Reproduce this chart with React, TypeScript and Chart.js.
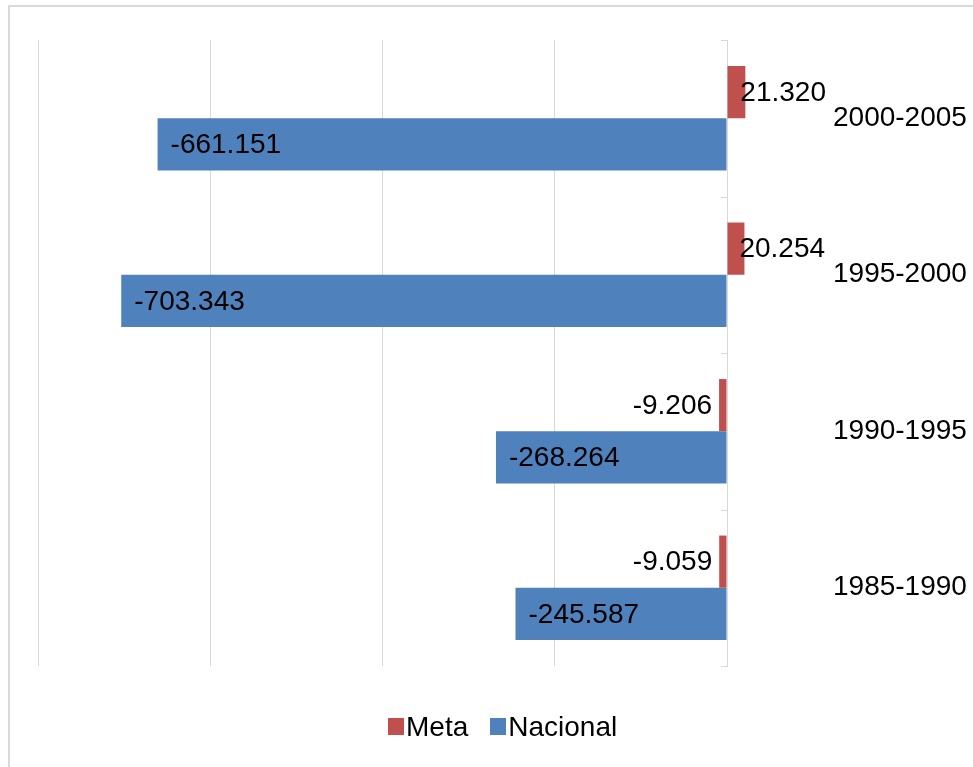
import React, { useEffect, useRef } from 'react';
import { Chart, registerables } from 'chart.js';

Chart.register(...registerables);

const categories = ['2000-2005', '1995-2000', '1990-1995', '1985-1990'];
const metaValues = [21320, 20254, -9206, -9059];
const nacionalValues = [-661151, -703343, -268264, -245587];
const xMin = -800000;
const xMax = 0;
const xStep = 200000;

const META_COLOR = '#C0504D';
const NACIONAL_COLOR = '#4F81BD';
const GRID_COLOR = '#d9d9d9';
const FONT = '"Liberation Sans", Arial, sans-serif';

const fmt = (v: number) => {
  const s = Math.abs(v).toString().replace(/\B(?=(\d{3})+(?!\d))/g, '.');
  return (v < 0 ? '-' : '') + s;
};

const labelPlugin = {
  id: 'barLabels',
  afterDatasetsDraw(chart: any) {
    const ctx = chart.ctx;
    ctx.save();
    ctx.font = `28px ${FONT}`;
    ctx.fillStyle = '#000';
    ctx.textBaseline = 'middle';
    chart.data.datasets.forEach((ds: any, di: number) => {
      const meta = chart.getDatasetMeta(di);
      meta.data.forEach((bar: any, i: number) => {
        const v = ds.data[i] as number;
        const { x, y } = bar.getProps(['x', 'y'], true);
        let tx: number;
        let align: CanvasTextAlign;
        if (di === 1) {
          align = 'left';
          tx = x + 13;
        } else if (v < 0) {
          align = 'right';
          tx = x - 7;
        } else {
          align = 'left';
          tx = x - 5;
        }
        ctx.textAlign = align;
        ctx.fillText(fmt(v), tx, y + 1);
      });
    });
    ctx.restore();
  },
};

const tickMarkPlugin = {
  id: 'catTickMarks',
  afterDraw(chart: any) {
    const s = chart.scales.y;
    const n = categories.length;
    const step = (s.bottom - s.top) / n;
    const ctx = chart.ctx;
    ctx.save();
    ctx.strokeStyle = GRID_COLOR;
    ctx.lineWidth = 1;
    ctx.beginPath();
    for (let i = 0; i <= n; i++) {
      const y = Math.round(s.top + i * step) + 0.5;
      ctx.moveTo(s.left - 6, y);
      ctx.lineTo(s.left, y);
    }
    ctx.stroke();
    ctx.restore();
  },
};

export default function App() {
  const ref = useRef<HTMLCanvasElement | null>(null);

  useEffect(() => {
    if (!ref.current) return;
    const chart = new Chart(ref.current, {
      type: 'bar',
      data: {
        labels: categories,
        datasets: [
          {
            label: 'Meta',
            data: metaValues,
            backgroundColor: META_COLOR,
            borderWidth: 0,
            clip: false as any,
          },
          {
            label: 'Nacional',
            data: nacionalValues,
            backgroundColor: NACIONAL_COLOR,
            borderWidth: 0,
            clip: false as any,
          },
        ],
      },
      options: {
        indexAxis: 'y',
        responsive: false,
        animation: false,
        events: [],
        layout: { padding: { top: 40, left: 38, right: 0, bottom: 101 } },
        datasets: { bar: { categoryPercentage: 0.667, barPercentage: 1 } },
        plugins: {
          legend: { display: false },
          tooltip: { enabled: false },
          title: { display: false },
        },
        scales: {
          x: {
            type: 'linear',
            min: xMin,
            max: xMax,
            ticks: { display: false, stepSize: xStep },
            grid: { color: GRID_COLOR, drawTicks: false, lineWidth: 1 },
            border: { display: false },
          },
          y: {
            type: 'category',
            position: 'right',
            offset: true,
            ticks: {
              color: '#000',
              font: { family: FONT, size: 28 },
              padding: 0,
            },
            grid: {
              drawOnChartArea: false,
              drawTicks: true,
              tickLength: 106,
              tickColor: 'rgba(0,0,0,0)',
            },
            border: { display: true, color: GRID_COLOR, width: 1 },
            afterFit: (s: any) => {
              s.width = 246;
            },
          },
        },
      },
      plugins: [labelPlugin, tickMarkPlugin],
    });
    return () => chart.destroy();
  }, []);

  const legendText: React.CSSProperties = {
    fontFamily: FONT,
    fontSize: 28,
    lineHeight: '28px',
    color: '#000',
    whiteSpace: 'nowrap',
  };

  return (
    <div
      style={{
        position: 'fixed',
        left: 0,
        top: 0,
        width: 973,
        height: 767,
        overflow: 'hidden',
        background: '#fff',
      }}
    >
      <div
        style={{
          position: 'absolute',
          left: 8,
          top: 5,
          width: 2000,
          height: 2000,
          border: `2px solid ${GRID_COLOR}`,
          boxSizing: 'border-box',
        }}
      />
      <canvas
        ref={ref}
        width={973}
        height={767}
        style={{ position: 'absolute', left: 0, top: 0, width: 973, height: 767 }}
      />
      <div
        style={{
          position: 'absolute',
          left: 388,
          top: 713,
          display: 'flex',
          alignItems: 'flex-start',
        }}
      >
        <span style={{ width: 16, height: 17, marginTop: 5, marginRight: 2, background: META_COLOR, display: 'inline-block' }} />
        <span style={legendText}>Meta</span>
        <span style={{ width: 16, height: 17, marginTop: 5, marginRight: 2, marginLeft: 22, background: NACIONAL_COLOR, display: 'inline-block' }} />
        <span style={legendText}>Nacional</span>
      </div>
    </div>
  );
}
